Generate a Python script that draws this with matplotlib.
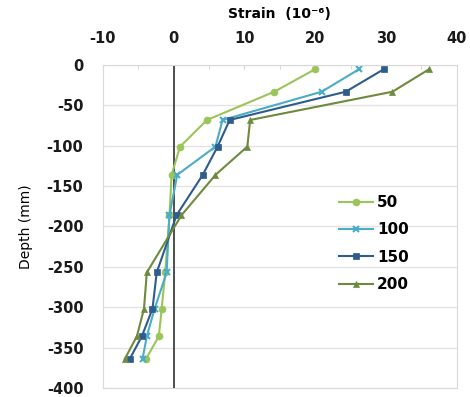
import matplotlib.pyplot as plt
from matplotlib.ticker import MultipleLocator

plt.rcParams['axes.unicode_minus'] = False

# Глубина (мм) и деформации для каждой серии
depth = [-5, -33, -68, -101, -136, -186, -257, -302, -336, -364]
strain_50 = [20.0, 14.2, 4.7, 0.9, -0.3, -0.6, -1.2, -1.7, -2.1, -3.9]
strain_100 = [26.2, 20.9, 6.9, 5.9, 0.5, -0.6, -1.0, -2.7, -3.8, -4.4]
strain_150 = [29.7, 24.3, 7.9, 6.2, 4.1, 0.4, -2.4, -3.0, -4.5, -6.2]
strain_200 = [36.1, 30.9, 10.8, 10.4, 5.9, 1.1, -3.8, -4.2, -5.2, -6.9]

labels = ['50', '100', '150', '200']
colors = ['#9BC459', '#4BACC6', '#2E5C8C', '#6E8B3D']
markers = ['o', 'x', 's', '^']

fig = plt.figure(figsize=(4.7, 3.97), dpi=100)
ax = fig.add_axes([0.219, 0.023, 0.753, 0.813])

for s, lab, c, m in zip([strain_50, strain_100, strain_150, strain_200], labels, colors, markers):
    ax.plot(s, depth, color=c, marker=m, markersize=5, linewidth=1.5,
            markeredgewidth=1.5 if m == 'x' else 0.5, label=lab)

ax.axvline(0, color='#404040', linewidth=1.3, zorder=1)

ax.set_xlim(-10, 40)
ax.set_ylim(-400, 0)
ax.xaxis.set_major_locator(MultipleLocator(10))
ax.xaxis.set_minor_locator(MultipleLocator(5))
ax.yaxis.set_major_locator(MultipleLocator(50))
ax.xaxis.tick_top()
ax.xaxis.set_label_position('top')
ax.tick_params(axis='x', which='both', direction='in', length=3, color='#D0D0D0', pad=14)
ax.tick_params(axis='y', length=0, pad=14)
for lbl in ax.get_xticklabels() + ax.get_yticklabels():
    lbl.set_fontweight('bold')
    lbl.set_fontsize(10.5)
    lbl.set_color('#1a1a1a')

ax.grid(axis='y', color='#E3E3E3', linewidth=1)
ax.set_axisbelow(True)
for sp in ax.spines.values():
    sp.set_color('#D9D9D9')

ax.set_xlabel('Strain  (10⁻⁶)', fontweight='bold', fontsize=10, labelpad=9)
ax.set_ylabel('Depth (mm)', fontsize=10, labelpad=10)

leg = ax.legend(loc='center left', bbox_to_anchor=(0.628, 0.447), frameon=False,
                prop={'weight': 'bold', 'size': 11}, handlelength=2.2,
                labelspacing=0.8, handletextpad=0.3)

plt.savefig('out.png', dpi=100)
